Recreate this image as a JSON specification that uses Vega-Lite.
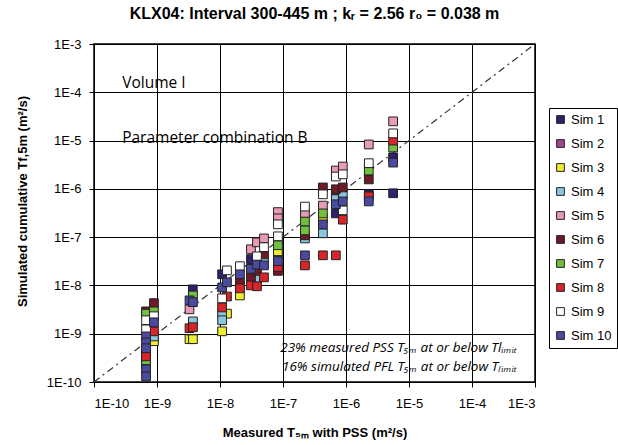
{
  "$schema": "https://vega.github.io/schema/vega-lite/v6.json",
  "width": 441,
  "height": 338,
  "autosize": "none",
  "padding": {"left": 94, "top": 44, "right": 83, "bottom": 63},
  "background": "white",
  "title": {"text": "KLX04: Interval 300-445 m ; kᵣ = 2.56 r₀ = 0.038 m", "fontSize": 16, "font": "Liberation Sans", "fontWeight": "bold", "color": "black", "anchor": "middle", "offset": 16},
  "config": {
    "view": {"stroke": "black", "strokeWidth": 1.5},
    "axis": {"grid": true, "gridColor": "black", "gridWidth": 1, "gridOpacity": 1, "domainColor": "black", "tickColor": "black", "tickSize": 5, "labelFont": "Liberation Sans", "labelFontSize": 13, "labelColor": "black", "titleFont": "Liberation Sans", "titleFontSize": 13, "titleFontWeight": "bold", "titleColor": "black"},
    "legend": {"orient": "none", "legendX": 455, "legendY": 64, "strokeColor": "black", "fillColor": "white", "padding": 5, "symbolType": "square", "symbolStrokeColor": "#222", "symbolStrokeWidth": 1, "symbolSize": 60, "symbolOpacity": 1, "labelFont": "Liberation Sans", "labelFontSize": 13, "labelColor": "black", "labelOffset": 4, "rowPadding": 10}
  },
  "layer": [
    {
      "data": {"values": [{"x": 1e-10, "y": 1e-10}, {"x": 1e-3, "y": 1e-3}]},
      "mark": {"type": "line", "color": "#333", "strokeWidth": 1.2, "strokeDash": [7, 4, 2, 4]},
      "encoding": {
        "x": {"field": "x", "type": "quantitative", "scale": {"type": "log", "domain": [1e-10, 1e-3], "nice": false}, "axis": {"values": [1e-10, 1e-9, 1e-8, 1e-7, 1e-6, 1e-5, 1e-4, 1e-3], "labelExpr": "'1E' + round(log(datum.value)/LN10)", "labelPadding": 10, "title": "Measured T₅ₘ with PSS (m²/s)", "titleY": 44}},
        "y": {"field": "y", "type": "quantitative", "scale": {"type": "log", "domain": [1e-10, 1e-3], "nice": false}, "axis": {"values": [1e-10, 1e-9, 1e-8, 1e-7, 1e-6, 1e-5, 1e-4, 1e-3], "labelExpr": "'1E' + round(log(datum.value)/LN10)", "labelPadding": 8, "title": "Simulated cumulative     Tf,5m  (m²/s)", "titleX": -72, "titleY": 157, "titleAlign": "center", "titleBaseline": "middle"}}
      }
    },
    {
      "data": {"values": [
        {"s": "Sim 1", "x": 6.7e-10, "y": 2.3e-10},
        {"s": "Sim 1", "x": 3.7e-9, "y": 8.3e-9},
        {"s": "Sim 1", "x": 1.08e-8, "y": 1.7e-8},
        {"s": "Sim 1", "x": 3.1e-8, "y": 3.5e-8},
        {"s": "Sim 1", "x": 6.9e-7, "y": 3.1e-7},
        {"s": "Sim 1", "x": 2.3e-6, "y": 7.7e-7},
        {"s": "Sim 1", "x": 5.6e-6, "y": 4.5e-6},
        {"s": "Sim 1", "x": 5.6e-6, "y": 8.1e-7},
        {"s": "Sim 2", "x": 8.3e-8, "y": 4.2e-8},
        {"s": "Sim 2", "x": 6.9e-7, "y": 7.0e-7},
        {"s": "Sim 3", "x": 8.95e-10, "y": 7.0e-10},
        {"s": "Sim 3", "x": 3.28e-9, "y": 7.7e-10},
        {"s": "Sim 3", "x": 3.72e-9, "y": 7.7e-10},
        {"s": "Sim 3", "x": 1.08e-8, "y": 1.12e-9},
        {"s": "Sim 3", "x": 1.29e-8, "y": 2.6e-9},
        {"s": "Sim 3", "x": 2.07e-8, "y": 6.2e-9},
        {"s": "Sim 3", "x": 8.3e-8, "y": 5.1e-8},
        {"s": "Sim 3", "x": 4.3e-7, "y": 2.45e-7},
        {"s": "Sim 4", "x": 8.95e-10, "y": 8.8e-10},
        {"s": "Sim 4", "x": 3.72e-9, "y": 1.8e-9},
        {"s": "Sim 4", "x": 1.08e-8, "y": 2.6e-9},
        {"s": "Sim 4", "x": 1.08e-8, "y": 1.9e-9},
        {"s": "Sim 4", "x": 2.07e-8, "y": 1.0e-8},
        {"s": "Sim 4", "x": 3.86e-8, "y": 1.4e-8},
        {"s": "Sim 4", "x": 4.99e-8, "y": 3.6e-8},
        {"s": "Sim 4", "x": 2.23e-7, "y": 9.4e-8},
        {"s": "Sim 4", "x": 4.3e-7, "y": 1.2e-7},
        {"s": "Sim 4", "x": 6.9e-7, "y": 6.1e-7},
        {"s": "Sim 4", "x": 8.9e-7, "y": 7.7e-7},
        {"s": "Sim 5", "x": 3.28e-9, "y": 3.2e-9},
        {"s": "Sim 5", "x": 3.1e-8, "y": 5.6e-8},
        {"s": "Sim 5", "x": 3.86e-8, "y": 7.8e-8},
        {"s": "Sim 5", "x": 4.99e-8, "y": 9.4e-8},
        {"s": "Sim 5", "x": 8.3e-8, "y": 3.3e-7},
        {"s": "Sim 5", "x": 8.3e-8, "y": 2.45e-7},
        {"s": "Sim 5", "x": 2.23e-7, "y": 3.1e-7},
        {"s": "Sim 5", "x": 4.3e-7, "y": 4.5e-7},
        {"s": "Sim 5", "x": 6.9e-7, "y": 2.4e-6},
        {"s": "Sim 5", "x": 8.9e-7, "y": 2.9e-6},
        {"s": "Sim 5", "x": 2.3e-6, "y": 8.3e-6},
        {"s": "Sim 5", "x": 5.6e-6, "y": 2.5e-5},
        {"s": "Sim 6", "x": 6.7e-10, "y": 2.9e-9},
        {"s": "Sim 6", "x": 6.7e-10, "y": 3.9e-10},
        {"s": "Sim 6", "x": 8.95e-10, "y": 4.3e-9},
        {"s": "Sim 6", "x": 2.07e-8, "y": 1.22e-8},
        {"s": "Sim 6", "x": 3.1e-8, "y": 1.47e-8},
        {"s": "Sim 6", "x": 3.86e-8, "y": 2.0e-8},
        {"s": "Sim 6", "x": 4.99e-8, "y": 4.4e-8},
        {"s": "Sim 6", "x": 8.3e-8, "y": 2.0e-8},
        {"s": "Sim 6", "x": 2.23e-7, "y": 1.09e-7},
        {"s": "Sim 6", "x": 4.3e-7, "y": 1.07e-6},
        {"s": "Sim 6", "x": 6.9e-7, "y": 9.8e-7},
        {"s": "Sim 6", "x": 8.9e-7, "y": 1.07e-6},
        {"s": "Sim 6", "x": 2.3e-6, "y": 1.57e-6},
        {"s": "Sim 7", "x": 6.7e-10, "y": 2.6e-9},
        {"s": "Sim 7", "x": 6.7e-10, "y": 2.8e-10},
        {"s": "Sim 7", "x": 8.95e-10, "y": 2.9e-9},
        {"s": "Sim 7", "x": 3.72e-9, "y": 6.2e-9},
        {"s": "Sim 7", "x": 8.3e-8, "y": 8.2e-8},
        {"s": "Sim 7", "x": 8.3e-8, "y": 6.8e-8},
        {"s": "Sim 7", "x": 2.23e-7, "y": 2.1e-7},
        {"s": "Sim 7", "x": 2.23e-7, "y": 1.38e-7},
        {"s": "Sim 7", "x": 4.3e-7, "y": 3.1e-7},
        {"s": "Sim 7", "x": 2.3e-6, "y": 2.4e-6},
        {"s": "Sim 7", "x": 5.6e-6, "y": 7.2e-6},
        {"s": "Sim 8", "x": 6.7e-10, "y": 3.4e-10},
        {"s": "Sim 8", "x": 8.95e-10, "y": 1.12e-9},
        {"s": "Sim 8", "x": 3.28e-9, "y": 1.3e-9},
        {"s": "Sim 8", "x": 3.72e-9, "y": 1.36e-9},
        {"s": "Sim 8", "x": 1.08e-8, "y": 3.5e-9},
        {"s": "Sim 8", "x": 1.29e-8, "y": 5.9e-9},
        {"s": "Sim 8", "x": 2.07e-8, "y": 8.7e-9},
        {"s": "Sim 8", "x": 3.1e-8, "y": 1.0e-8},
        {"s": "Sim 8", "x": 3.86e-8, "y": 9.6e-9},
        {"s": "Sim 8", "x": 4.99e-8, "y": 1.47e-8},
        {"s": "Sim 8", "x": 8.3e-8, "y": 2.4e-8},
        {"s": "Sim 8", "x": 2.23e-7, "y": 2.6e-8},
        {"s": "Sim 8", "x": 4.3e-7, "y": 4.2e-8},
        {"s": "Sim 8", "x": 6.9e-7, "y": 4.2e-8},
        {"s": "Sim 8", "x": 8.9e-7, "y": 2.3e-7},
        {"s": "Sim 8", "x": 2.3e-6, "y": 7.0e-7},
        {"s": "Sim 8", "x": 5.6e-6, "y": 1.0e-5},
        {"s": "Sim 9", "x": 6.7e-10, "y": 1.9e-9},
        {"s": "Sim 9", "x": 6.7e-10, "y": 1.23e-9},
        {"s": "Sim 9", "x": 8.95e-10, "y": 2.3e-9},
        {"s": "Sim 9", "x": 1.08e-8, "y": 5.4e-9},
        {"s": "Sim 9", "x": 1.29e-8, "y": 2.05e-8},
        {"s": "Sim 9", "x": 2.07e-8, "y": 2.5e-8},
        {"s": "Sim 9", "x": 3.86e-8, "y": 4.0e-8},
        {"s": "Sim 9", "x": 4.99e-8, "y": 6.2e-8},
        {"s": "Sim 9", "x": 8.3e-8, "y": 1.84e-7},
        {"s": "Sim 9", "x": 8.3e-8, "y": 1.04e-7},
        {"s": "Sim 9", "x": 2.23e-7, "y": 4.3e-7},
        {"s": "Sim 9", "x": 4.3e-7, "y": 7.7e-7},
        {"s": "Sim 9", "x": 6.9e-7, "y": 1.8e-6},
        {"s": "Sim 9", "x": 8.9e-7, "y": 2.0e-6},
        {"s": "Sim 9", "x": 8.9e-7, "y": 3.6e-7},
        {"s": "Sim 9", "x": 2.3e-6, "y": 3.4e-6},
        {"s": "Sim 9", "x": 5.6e-6, "y": 1.41e-5},
        {"s": "Sim 10", "x": 6.7e-10, "y": 8.8e-10},
        {"s": "Sim 10", "x": 6.7e-10, "y": 6.6e-10},
        {"s": "Sim 10", "x": 6.7e-10, "y": 5.0e-10},
        {"s": "Sim 10", "x": 6.7e-10, "y": 1.83e-10},
        {"s": "Sim 10", "x": 6.7e-10, "y": 1.31e-10},
        {"s": "Sim 10", "x": 8.95e-10, "y": 1.72e-9},
        {"s": "Sim 10", "x": 3.28e-9, "y": 4.9e-9},
        {"s": "Sim 10", "x": 3.72e-9, "y": 4.5e-9},
        {"s": "Sim 10", "x": 1.08e-8, "y": 9.1e-9},
        {"s": "Sim 10", "x": 1.29e-8, "y": 1.16e-8},
        {"s": "Sim 10", "x": 2.07e-8, "y": 1.7e-8},
        {"s": "Sim 10", "x": 3.1e-8, "y": 2.2e-8},
        {"s": "Sim 10", "x": 3.86e-8, "y": 2.7e-8},
        {"s": "Sim 10", "x": 4.99e-8, "y": 2.6e-8},
        {"s": "Sim 10", "x": 8.3e-8, "y": 3.2e-8},
        {"s": "Sim 10", "x": 2.23e-7, "y": 4.2e-8},
        {"s": "Sim 10", "x": 4.3e-7, "y": 1.84e-7},
        {"s": "Sim 10", "x": 6.9e-7, "y": 4.8e-7},
        {"s": "Sim 10", "x": 8.9e-7, "y": 5.5e-7},
        {"s": "Sim 10", "x": 2.3e-6, "y": 5.5e-7},
        {"s": "Sim 10", "x": 5.6e-6, "y": 3.5e-6}
      ]},
      "mark": {"type": "point", "shape": "square", "size": 76, "filled": true, "opacity": 1, "stroke": "#222", "strokeWidth": 1},
      "encoding": {
        "x": {"field": "x", "type": "quantitative", "scale": {"type": "log", "domain": [1e-10, 1e-3], "nice": false}},
        "y": {"field": "y", "type": "quantitative", "scale": {"type": "log", "domain": [1e-10, 1e-3], "nice": false}},
        "color": {"field": "s", "type": "nominal", "scale": {"domain": ["Sim 1", "Sim 2", "Sim 3", "Sim 4", "Sim 5", "Sim 6", "Sim 7", "Sim 8", "Sim 9", "Sim 10"], "range": ["#2f1f6e", "#a0478a", "#eeee30", "#8ac8e0", "#e89ab8", "#6e1a28", "#72c040", "#d8252a", "#ffffff", "#4a4aa0"]}, "legend": {"title": null}}
      }
    },
    {
      "data": {"values": [
        {"x": 2.8e-10, "y": 1.53e-4, "t": "Volume I"},
        {"x": 2.8e-10, "y": 1.11e-5, "t": "Parameter combination B"}
      ]},
      "mark": {"type": "text", "align": "left", "baseline": "middle", "font": "Open Sans", "fontSize": 15.5, "color": "black"},
      "encoding": {
        "x": {"field": "x", "type": "quantitative", "scale": {"type": "log", "domain": [1e-10, 1e-3], "nice": false}},
        "y": {"field": "y", "type": "quantitative", "scale": {"type": "log", "domain": [1e-10, 1e-3], "nice": false}},
        "text": {"field": "t"}
      }
    },
    {
      "data": {"values": [
        {"x": 5.2e-4, "y": 5.0e-10, "t": "23% measured PSS T₅ₘ at or below Tlᵢₘᵢₜ"},
        {"x": 5.2e-4, "y": 2.0e-10, "t": "16% simulated PFL T₅ₘ at or below Tₗᵢₘᵢₜ"}
      ]},
      "mark": {"type": "text", "align": "right", "baseline": "middle", "font": "Open Sans", "fontStyle": "italic", "fontSize": 13.5, "color": "black"},
      "encoding": {
        "x": {"field": "x", "type": "quantitative", "scale": {"type": "log", "domain": [1e-10, 1e-3], "nice": false}},
        "y": {"field": "y", "type": "quantitative", "scale": {"type": "log", "domain": [1e-10, 1e-3], "nice": false}},
        "text": {"field": "t"}
      }
    }
  ]
}
